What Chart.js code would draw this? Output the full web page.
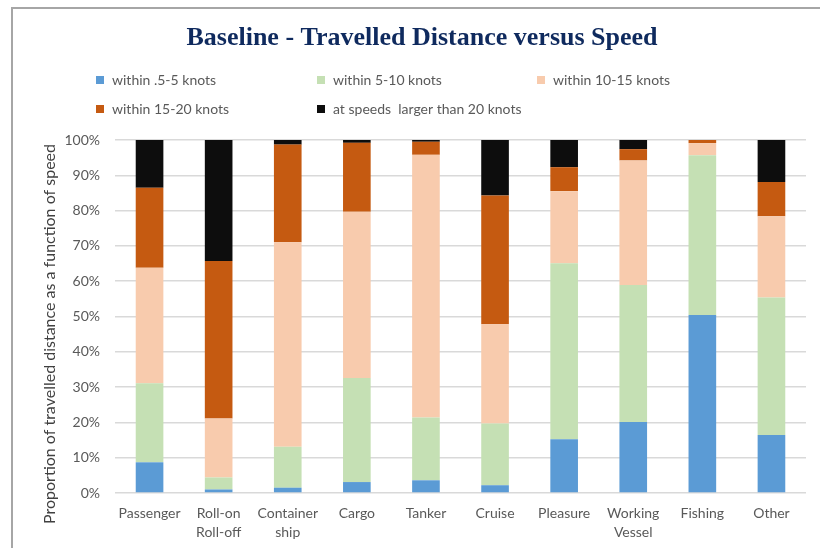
<!DOCTYPE html>
<html>
<head>
<meta charset="utf-8">
<script src="https://cdn.jsdelivr.net/npm/chart.js@4/dist/chart.umd.min.js"></script>
<style>
  html, body { margin: 0; padding: 0; background: #fff; overflow: hidden; }
  #wrap { position: relative; width: 820px; height: 548px; overflow: hidden; }
  #chart { position: absolute; left: 0; top: 0; }
  .frame { position: absolute; left: 11px; top: 7px; right: -30px; bottom: -30px;
           border-top: 2px solid #a6a6a6; border-left: 2px solid #a6a6a6; pointer-events: none; }
</style>
</head>
<body>
<div id="wrap">
  <canvas id="chart" width="820" height="548"></canvas>
  <div class="frame"></div>
</div>
<script>
// Vessel categories (multi-line labels are arrays)
const categories = ['Passenger', ['Roll-on', 'Roll-off'], ['Container', 'ship'], 'Cargo', 'Tanker',
                    'Cruise', 'Pleasure', ['Working', 'Vessel'], 'Fishing', 'Other'];

// Share of travelled distance (%) per speed band
const speed05to5   = [8.7, 1.0, 1.5, 3.1, 3.6, 2.2, 15.2, 20.1, 50.4, 16.4];
const speed5to10   = [22.4, 3.4, 11.6, 29.5, 17.8, 17.5, 49.9, 38.8, 45.3, 39.0];
const speed10to15  = [32.7, 16.7, 57.9, 47.1, 74.4, 28.1, 20.4, 35.3, 3.4, 23.0];
const speed15to20  = [22.7, 44.6, 27.7, 19.5, 3.7, 36.5, 6.8, 3.2, 0.9, 9.7];
const speedOver20  = [13.5, 34.3, 1.3, 0.8, 0.5, 15.7, 7.7, 2.6, 0.0, 11.9];

const seriesLabels = ['within .5-5 knots', 'within 5-10 knots', 'within 10-15 knots',
                      'within 15-20 knots', 'at speeds  larger than 20 knots'];
const yTicks = [0, 10, 20, 30, 40, 50, 60, 70, 80, 90, 100];

const chartTitle = 'Baseline - Travelled Distance versus Speed';
const yAxisTitle = 'Proportion of travelled distance as a function of speed';

const colors = ['#5b9bd5', '#c5e0b4', '#f8cbad', '#c55a11', '#0d0d0d'];
const seriesData = [speed05to5, speed5to10, speed10to15, speed15to20, speedOver20];

const datasets = seriesData.map((d, i) => ({
  label: seriesLabels[i],
  data: d,
  backgroundColor: colors[i],
  borderWidth: 0,
  barPercentage: 0.4,
  categoryPercentage: 1.0
}));

// Title, legend in a fixed 3-column grid, and the rotated axis title
const chartDecor = {
  id: 'chartDecor',
  afterDraw(chart) {
    const ctx = chart.ctx;
    ctx.save();

    ctx.font = 'bold 26px "Liberation Serif"';
    ctx.fillStyle = '#0f2a5e';
    ctx.textAlign = 'center';
    ctx.textBaseline = 'middle';
    ctx.fillText(chartTitle, 422, 38);

    const cols = [96, 317, 537];
    const rows = [80, 109];
    ctx.font = '14px Lato';
    ctx.textAlign = 'left';
    chart.data.datasets.forEach((ds, i) => {
      const x = cols[i % 3];
      const y = rows[Math.floor(i / 3)];
      ctx.fillStyle = ds.backgroundColor;
      ctx.fillRect(x, y - 4, 8, 8);
      ctx.fillStyle = '#595959';
      ctx.fillText(ds.label, x + 16, y);
    });

    ctx.translate(50, 334);
    ctx.rotate(-Math.PI / 2);
    ctx.textAlign = 'center';
    ctx.font = '16px Lato';
    ctx.fillStyle = '#404040';
    ctx.fillText(yAxisTitle, 0, 0);
    ctx.restore();
  }
};

new Chart(document.getElementById('chart'), {
  type: 'bar',
  data: { labels: categories, datasets },
  plugins: [chartDecor],
  options: {
    responsive: false,
    animation: false,
    layout: { padding: { left: 0, right: 14, top: 140, bottom: 0 } },
    plugins: {
      legend: { display: false },
      tooltip: { enabled: false },
      title: { display: false }
    },
    scales: {
      x: {
        stacked: true,
        grid: { display: false, drawTicks: false },
        border: { display: false },
        ticks: {
          color: '#595959',
          font: { family: 'Lato', size: 14, lineHeight: 19 / 14 },
          padding: 10.5,
          maxRotation: 0,
          autoSkip: false
        },
        afterFit(scale) { scale.height = 55; }
      },
      y: {
        stacked: true,
        min: 0,
        max: 100,
        afterBuildTicks(scale) { scale.ticks = yTicks.map(v => ({ value: v })); },
        grid: { color: '#d9d9d9', lineWidth: 1.5, drawTicks: false },
        border: { display: false },
        ticks: {
          color: '#595959',
          font: { family: 'Lato', size: 14 },
          padding: 15,
          callback: v => v + '%'
        },
        afterFit(scale) { scale.width = 115; }
      }
    }
  }
});
</script>
</body>
</html>
